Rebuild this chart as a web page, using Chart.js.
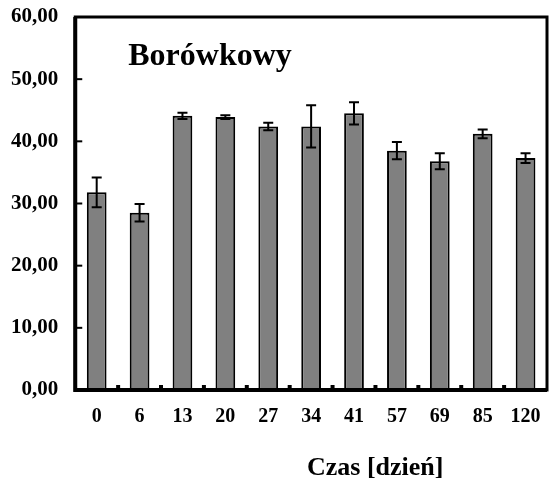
<!DOCTYPE html>
<html>
<head>
<meta charset="utf-8">
<script src="https://cdn.jsdelivr.net/npm/chart.js@4"></script>
<style>
  html, body { margin: 0; padding: 0; background: #fff; }
  #wrap { width: 549px; height: 485px; }
</style>
</head>
<body>
<div id="wrap"><canvas id="myChart"></canvas></div>
<script>
var days = ["0", "6", "13", "20", "27", "34", "41", "57", "69", "85", "120"];
var values = [31.8, 28.5, 44.1, 43.9, 42.4, 42.4, 44.5, 38.5, 36.8, 41.2, 37.3];
var errors = [2.4, 1.4, 0.5, 0.3, 0.6, 3.4, 1.8, 1.4, 1.3, 0.7, 0.8];
var yTicks = [0, 10, 20, 30, 40, 50, 60];
var chartTitle = "Borówkowy";
var xTitle = "Czas [dzień]";

var serif = "'Liberation Serif', 'Times New Roman', serif";

// frame, inward ticks, error bars and the two texts
var extras = {
    id: 'extras',
    afterDatasetsDraw(chart) {
        var ctx = chart.ctx;
        var a = chart.chartArea;
        var x = chart.scales.x;
        var y = chart.scales.y;
        var meta = chart.getDatasetMeta(0);
        ctx.save();
        ctx.strokeStyle = '#000';

        // error bars
        ctx.lineWidth = 2;
        meta.data.forEach(function (bar, i) {
            var top = y.getPixelForValue(values[i] + errors[i]);
            var bot = y.getPixelForValue(values[i] - errors[i]);
            ctx.beginPath();
            ctx.moveTo(bar.x, top); ctx.lineTo(bar.x, bot);
            ctx.moveTo(bar.x - 5, top); ctx.lineTo(bar.x + 5, top);
            ctx.moveTo(bar.x - 5, bot); ctx.lineTo(bar.x + 5, bot);
            ctx.stroke();
        });

        // y ticks pointing inside
        ctx.lineWidth = 2;
        yTicks.forEach(function (v) {
            var py = y.getPixelForValue(v);
            ctx.beginPath();
            ctx.moveTo(a.left, py); ctx.lineTo(a.left + 7, py);
            ctx.stroke();
        });

        // x ticks between categories
        ctx.lineWidth = 4;
        for (var i = 1; i < days.length; i++) {
            var px = (x.getPixelForValue(i - 1) + x.getPixelForValue(i)) / 2;
            ctx.beginPath();
            ctx.moveTo(px, a.bottom); ctx.lineTo(px, a.bottom - 5);
            ctx.stroke();
        }

        // frame
        ctx.lineWidth = 3;
        ctx.strokeRect(a.left, a.top, a.right - a.left, a.bottom - a.top);
        ctx.lineWidth = 4;
        ctx.beginPath();
        ctx.moveTo(a.left, a.top); ctx.lineTo(a.left, a.bottom); ctx.lineTo(a.right, a.bottom);
        ctx.stroke();

        // titles
        ctx.fillStyle = '#000';
        ctx.font = 'bold 32px ' + serif;
        ctx.textAlign = 'left';
        ctx.textBaseline = 'alphabetic';
        ctx.fillText(chartTitle, a.left + 53, a.top + 48);
        ctx.font = 'bold 26px ' + serif;
        ctx.textAlign = 'center';
        ctx.fillText(xTitle, a.left + 300, a.bottom + 85);
        ctx.restore();
    }
};

new Chart(document.getElementById('myChart'), {
    type: 'bar',
    data: {
        labels: days,
        datasets: [{
            data: values,
            backgroundColor: '#808080',
            borderColor: '#000',
            borderWidth: 2,
            barPercentage: 0.46,
            categoryPercentage: 1,
        }],
    },
    options: {
        responsive: true,
        maintainAspectRatio: false,
        animation: false,
        layout: {
            padding: { top: 17, right: 2, bottom: 49, left: 2 },
        },
        plugins: {
            legend: { display: false },
            tooltip: { enabled: false },
        },
        scales: {
            x: {
                grid: { display: false },
                border: { display: false },
                ticks: {
                    color: '#000',
                    padding: 7,
                    font: { family: serif, size: 20, weight: 'bold' },
                },
            },
            y: {
                min: 0,
                max: 60,
                grid: { display: false },
                border: { display: false },
                afterFit: function (scale) { scale.paddingTop = 0; },
                ticks: {
                    stepSize: 10,
                    color: '#000',
                    padding: 9,
                    font: { family: serif, size: 21, weight: 'bold' },
                    callback: function (v) { return v.toFixed(2).replace('.', ','); },
                },
            },
        },
    },
    plugins: [extras],
});
</script>
</body>
</html>
